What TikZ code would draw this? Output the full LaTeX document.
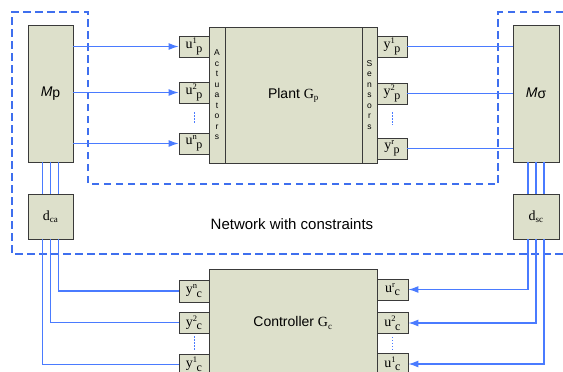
\documentclass[tikz,border=0pt]{standalone}
\usepackage{fontspec}
\setmainfont{Liberation Sans}
\newfontfamily\tms{Liberation Serif}
\usetikzlibrary{arrows.meta}
\definecolor{boxfill}{HTML}{DDE0CB}
\definecolor{boxedge}{HTML}{3A3A3A}
\definecolor{linkblue}{HTML}{4A7BFF}
\definecolor{netblue}{HTML}{3F6FEE}
\newcommand{\sig}[3]{{\tms #1\raisebox{5pt}{\fontsize{8.5}{9}\selectfont #2}\kern-0.5pt\raisebox{-3.5pt}{\fontsize{12}{12}\selectfont #3}}}
\newcommand{\sbs}[2]{{\tms #1}$_{\mbox{\tms\fontsize{9}{9}\selectfont #2}}$}
\begin{document}
\begin{tikzpicture}[x=1pt,y=-1pt,
    box/.style={draw=boxedge, fill=boxfill, line width=0.8pt, inner sep=0pt, font=\fontsize{14}{16}\selectfont},
    port/.style={box, minimum width=30pt, minimum height=21pt},
    bar/.style={box, minimum width=16pt, minimum height=136pt, align=center, font=\fontsize{8.5}{10.5}\selectfont},
    link/.style={draw=linkblue, line width=1.2pt},
    feed/.style={link, -{Latex[length=10pt,width=7pt]}},
    dots/.style={draw=linkblue, line width=1pt, dash pattern=on 1.5pt off 1.5pt},
    net/.style={draw=netblue, line width=1.2pt, dash pattern=on 7.5pt off 4.5pt}]
    \useasboundingbox (0,0) rectangle (563,372);
    \clip (0,0) rectangle (563,372);
    % network region
    \draw [net] (575,12) -- (498,12) -- (498,184) -- (88,184) -- (88,12) -- (12,12) -- (12,254) -- (575,254);
    \node [font=\fontsize{15}{17}\selectfont] (netlabel) at (292,224) {Network with constraints};
    % plant side
    \node [box, minimum width=45pt, minimum height=137pt] (Mp) at (50.5,93.5) {\textit{M}\raisebox{-1pt}{p}};
    \node [box, minimum width=46pt, minimum height=137pt] (Ms) at (536,93.5) {\textit{M}\raisebox{-1pt}{σ}};
    \node [bar] (act) at (217,95) {A\\c\\t\\u\\a\\t\\o\\r\\s};
    \node [box, minimum width=137pt, minimum height=136pt] (plant) at (293.5,95) {Plant \sbs{G}{p}};
    \node [bar, minimum width=15pt] (sens) at (369.5,95) {S\\e\\n\\s\\o\\r\\s};
    \node [port] (up1) at (194,46.5) {\sig{u}{1}{p}};
    \node [port] (up2) at (194,92.5) {\sig{u}{2}{p}};
    \node [port] (upn) at (194,143.5) {\sig{u}{n}{p}};
    \node [port] (yp1) at (392,46.5) {\sig{y}{1}{p}};
    \node [port] (yp2) at (392,93.5) {\sig{y}{2}{p}};
    \node [port] (ypr) at (392,148.5) {\sig{y}{r}{p}};
    \draw [dots] ([yshift=-9pt]up2.south) -- ([yshift=9pt]upn.north);
    \draw [dots] ([yshift=-8pt]yp2.south) -- ([yshift=13pt]ypr.north);
    \draw [feed] (Mp.east |- up1.west) -- (up1.west);
    \draw [feed] (Mp.east |- up2.west) -- (up2.west);
    \draw [feed] (Mp.east |- upn.west) -- (upn.west);
    \draw [link] (yp1.east) -- (yp1.east -| Ms.west);
    \draw [link] (yp2.east) -- (yp2.east -| Ms.west);
    \draw [link] (ypr.east) -- (ypr.east -| Ms.west);
    % network delays
    \node [box, minimum width=45pt, minimum height=45pt] (dca) at (50.5,216.5) {\sbs{d}{ca}};
    \node [box, minimum width=46pt, minimum height=45pt] (dsc) at (536,216.5) {\sbs{d}{sc}};
    \foreach \dx in {-8,0,8} {
        \draw [link] ([xshift=\dx pt]Mp.south) -- ([xshift=\dx pt]dca.north);
        \draw [link] ([xshift=\dx pt]Ms.south) -- ([xshift=\dx pt]dsc.north);
    }
    % controller side
    \node [box, minimum width=168pt, minimum height=108pt] (ctrl) at (293,323) {Controller \sbs{G}{c}};
    \node [port, minimum height=22pt] (ycn) at (194,291) {\sig{y}{n}{c}};
    \node [port] (yc2) at (194,322.5) {\sig{y}{2}{c}};
    \node [port] (yc1) at (194,364.5) {\sig{y}{1}{c}};
    \node [port, minimum width=31pt] (ucr) at (392.5,289.5) {\sig{u}{r}{c}};
    \node [port, minimum width=31pt] (uc2) at (392.5,323) {\sig{u}{2}{c}};
    \node [port, minimum width=31pt] (uc1) at (392.5,364) {\sig{u}{1}{c}};
    \draw [dots] ([yshift=-3pt]yc2.south) -- ([yshift=4pt]yc1.north);
    \draw [dots] ([yshift=-3pt]uc2.south) -- ([yshift=3pt]uc1.north);
    \draw [link] ([xshift=8pt]dca.south) |- (ycn.west);
    \draw [link] (dca.south) |- (yc2.west);
    \draw [link] ([xshift=-8pt]dca.south) |- (yc1.west);
    \draw [feed] ([xshift=-8pt]dsc.south) |- (ucr.east);
    \draw [feed] (dsc.south) |- (uc2.east);
    \draw [feed] ([xshift=8pt]dsc.south) |- (uc1.east);
\end{tikzpicture}
\end{document}
